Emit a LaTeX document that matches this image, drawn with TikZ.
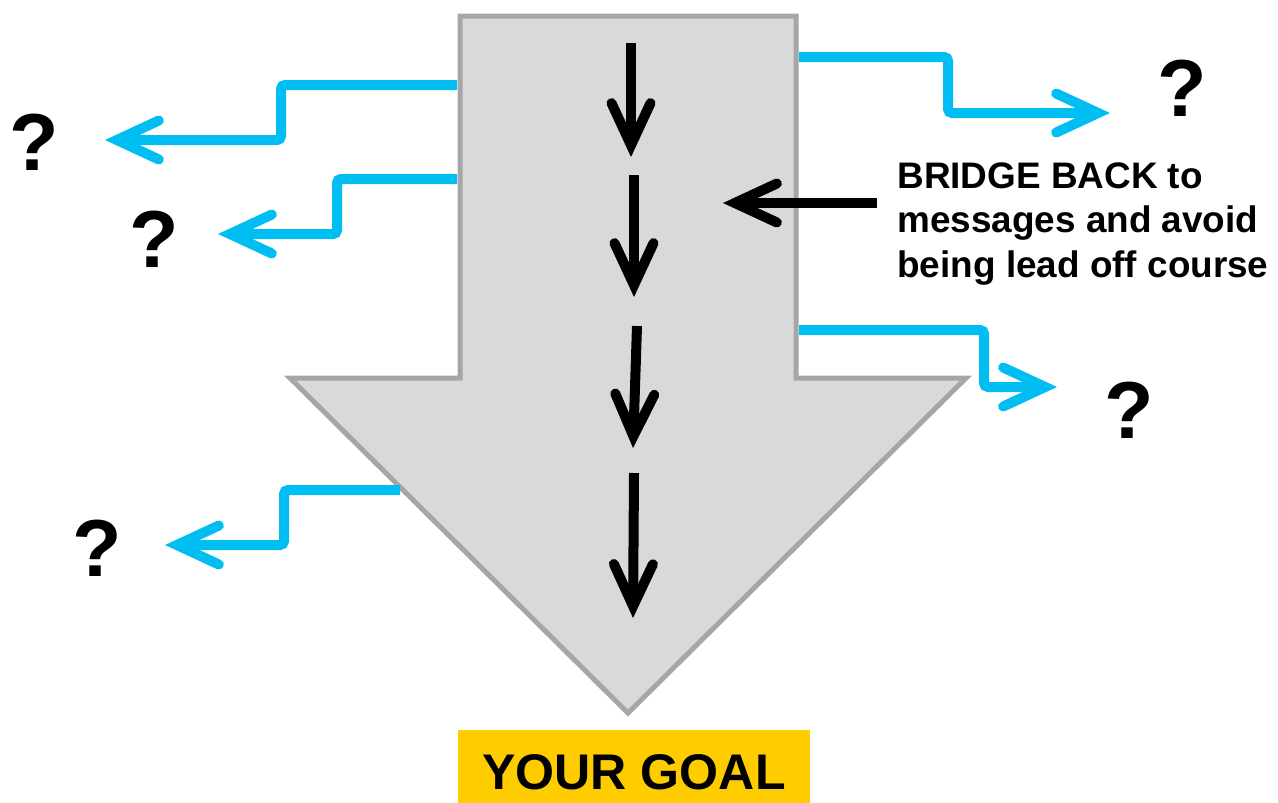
\documentclass[tikz,border=0pt]{standalone}
\usepackage{fontspec}
\setmainfont{Liberation Sans}
\usetikzlibrary{arrows.meta,positioning,calc}
\definecolor{pathGray}{RGB}{217,217,217}
\definecolor{pathEdge}{RGB}{166,166,166}
\definecolor{sideBlue}{RGB}{0,190,242}
\definecolor{goalGold}{RGB}{255,204,0}
\tikzset{
    every node/.append style={align=center},
    bigarrow/.style={fill=pathGray,draw=pathEdge,line width=1mm,line join=miter},
    barb/.style={-{Straight Barb[length=8.4mm,width=7.8mm,line cap=round,line join=miter]}},
    stayarr/.style={barb,line width=2mm},
    strayarr/.style={barb,draw=sideBlue,line width=2mm,rounded corners=0.8mm},
    qmark/.style={font=\bfseries\fontsize{46}{50}\selectfont,inner sep=0pt},
    note/.style={font=\bfseries\fontsize{21}{25.4}\selectfont,align=left,inner sep=0pt},
    goal/.style={fill=goalGold,font=\bfseries\fontsize{28.5}{32}\selectfont,
        minimum width=70.4mm,minimum height=17mm,inner sep=0pt}
}

\begin{document}
\begin{tikzpicture}[x=0.2mm,y=-0.2mm]
    \useasboundingbox (0,0) rectangle (1278,802);

    % the main course
    \draw[bigarrow] (460,16) -- (796,16) -- (796,378) -- (966,378)
        -- (628,713) -- (290,378) -- (460,378) -- cycle;

    % staying on message
    \draw[stayarr] (631,43) -- (631,157);
    \draw[stayarr] (634,175) -- (634,297);
    \draw[stayarr] (637,326) -- (633,448);
    \draw[stayarr] (634,473) -- (633,618);

    % the stray questions
    \node[qmark] (qL1) at (34,142) {?};
    \node[qmark] (qL2) at (154,239) {?};
    \node[qmark] (qL3) at (97,548) {?};
    \node[qmark] (qR1) at (1182,88) {?};
    \node[qmark] (qR2) at (1129,410) {?};

    \coordinate (outL1) at (457,85);   \coordinate (tipL1) at (105,140);
    \coordinate (outL2) at (457,179);  \coordinate (tipL2) at (218,234);
    \coordinate (outL3) at (400,490);  \coordinate (tipL3) at (165,545);
    \coordinate (outR1) at (799,57);   \coordinate (tipR1) at (1110,113);
    \coordinate (outR2) at (799,330);  \coordinate (tipR2) at (1057,387);

    \draw[strayarr] (outL1) -| (281,140) -- (tipL1);
    \draw[strayarr] (outL2) -| (337,234) -- (tipL2);
    \draw[strayarr] (outL3) -| (284,545) -- (tipL3);
    \draw[strayarr] (outR1) -| (948,113) -- (tipR1);
    \draw[strayarr] (outR2) -| (984,387) -- (tipR2);

    % bridge back
    \node[note,anchor=north west] (bridgeNote) at (897,162)
        {BRIDGE BACK to\\messages and avoid\\being lead off course};
    \coordinate (bridgeFrom) at (877,203);
    \coordinate (bridgeTo) at (723,203);
    \draw[stayarr] (bridgeFrom) -- (bridgeTo);

    % the goal
    \node[goal] (goalBox) at (634,772.5) {YOUR GOAL};
\end{tikzpicture}
\end{document}
